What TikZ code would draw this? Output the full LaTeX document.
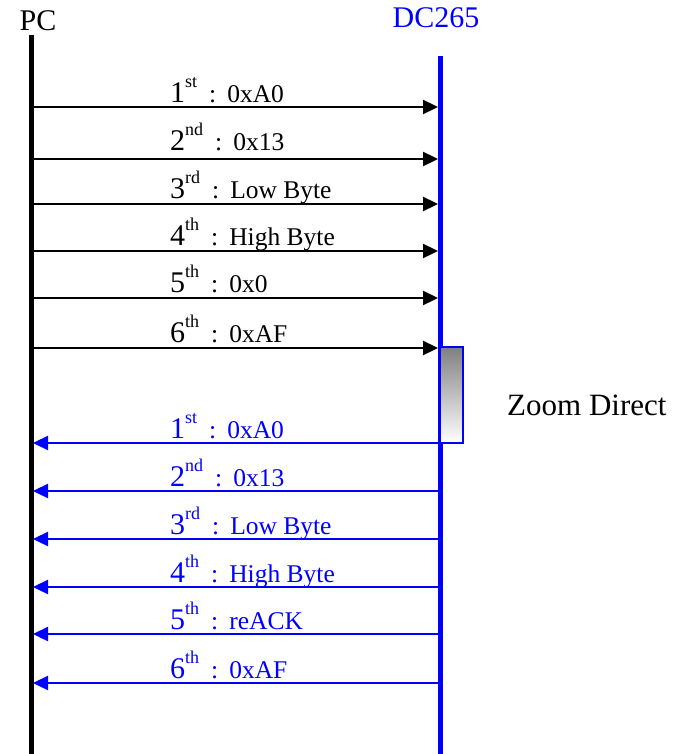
\documentclass[tikz,border=0pt]{standalone}
\usepackage{fontspec}
\setmainfont{Liberation Serif}
\usetikzlibrary{arrows.meta}
\definecolor{ablue}{RGB}{0,0,255}
\newcommand{\seqlbl}[3]{{\fontsize{30}{30}\selectfont #1}\raisebox{15pt}{\fontsize{18}{18}\selectfont #2}{\fontsize{25.5}{25.5}\selectfont\hspace{12pt}:\hspace{11pt}#3}}
\tikzset{
  lifeline/.style={line width=5pt},
  msg/.style={line width=2.3pt,-{Triangle[length=15pt,width=14pt]}},
  msgtxt/.style={anchor=base west,inner sep=0pt},
  head/.style={font=\fontsize{30}{30}\selectfont,anchor=base,inner sep=0pt}
}
\begin{document}
\begin{tikzpicture}[x=1pt,y=-1pt]
\useasboundingbox (0,0) rectangle (679,754);
% heads
\node[head] (pc) at (38,31) {PC};
\node[head,text=ablue] (dc) at (436,28) {DC265};
% lifelines
\coordinate (pctop) at (31,35);
\coordinate (pcbot) at (31,754);
\coordinate (dctop) at (440,56);
\coordinate (dcbot) at (440,754);
\draw[lifeline] (pctop) -- (pcbot);
\draw[lifeline,ablue] (dctop) -- (dcbot);
% coordinates for messages
\foreach \i/\y in {1/107,2/159,3/204,4/251,5/298,6/348}{
  \coordinate (pa\i) at (31,\y);
  \coordinate (da\i) at (438,\y);
}
\foreach \i/\y in {1/443,2/491,3/539,4/587,5/634,6/683}{
  \coordinate (pb\i) at (33,\y);
  \coordinate (db\i) at (440,\y);
}
% black messages
\draw[msg] (pa1) -- (da1);
\draw[msg] (pa2) -- (da2);
\draw[msg] (pa3) -- (da3);
\draw[msg] (pa4) -- (da4);
\draw[msg] (pa5) -- (da5);
\draw[msg] (pa6) -- (da6);
\node[msgtxt] (la1) at (170,103) {\seqlbl{1}{st}{0xA0}};
\node[msgtxt] (la2) at (170,151) {\seqlbl{2}{nd}{0x13}};
\node[msgtxt] (la3) at (170,198) {\seqlbl{3}{rd}{Low Byte}};
\node[msgtxt] (la4) at (170,245) {\seqlbl{4}{th}{High Byte}};
\node[msgtxt] (la5) at (170,292) {\seqlbl{5}{th}{0x0}};
\node[msgtxt] (la6) at (170,342) {\seqlbl{6}{th}{0xAF}};
% zoom box
\shade[top color=black!50, bottom color=white] (440,347) rectangle (463,443);
\draw[ablue,line width=1.5pt] (440,347) rectangle (463,443);
\node[anchor=base west,inner sep=0pt,font=\fontsize{31}{31}\selectfont] (zd) at (507,415) {Zoom Direct};
% blue messages
\draw[msg,ablue] (db1) -- (pb1);
\draw[msg,ablue] (db2) -- (pb2);
\draw[msg,ablue] (db3) -- (pb3);
\draw[msg,ablue] (db4) -- (pb4);
\draw[msg,ablue] (db5) -- (pb5);
\draw[msg,ablue] (db6) -- (pb6);
\begin{scope}[text=ablue]
\node[msgtxt] (lb1) at (170,438) {\seqlbl{1}{st}{0xA0}};
\node[msgtxt] (lb2) at (170,486) {\seqlbl{2}{nd}{0x13}};
\node[msgtxt] (lb3) at (170,534) {\seqlbl{3}{rd}{Low Byte}};
\node[msgtxt] (lb4) at (170,582) {\seqlbl{4}{th}{High Byte}};
\node[msgtxt] (lb5) at (170,629) {\seqlbl{5}{th}{reACK}};
\node[msgtxt] (lb6) at (170,678) {\seqlbl{6}{th}{0xAF}};
\end{scope}
\end{tikzpicture}
\end{document}
